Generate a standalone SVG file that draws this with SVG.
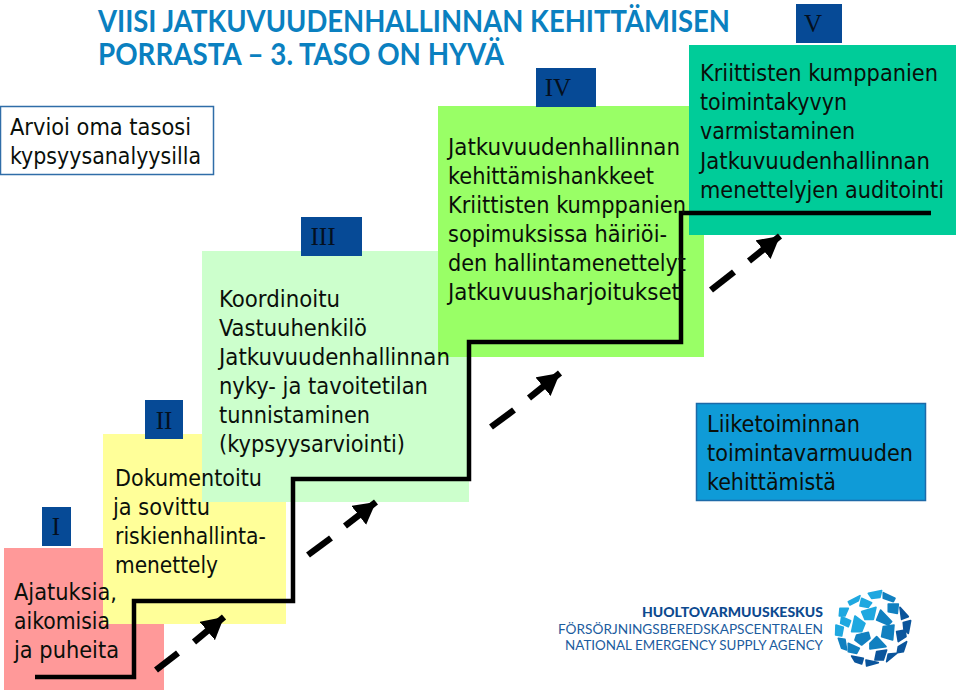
<svg xmlns="http://www.w3.org/2000/svg" width="960" height="690" viewBox="0 0 960 690">
<style>
text{font-family:"DejaVu Sans Condensed","DejaVu Sans",sans-serif;font-size:23.5px;fill:#0a0f0a}
.num{font-family:"Liberation Serif",serif;font-size:25px;fill:#04101f;text-anchor:middle}
.badge{fill:#064a96}
.title{font-family:Lato,"Open Sans",sans-serif;font-weight:700;font-size:30px;fill:#0a80c0}
.stair{fill:none;stroke:#000;stroke-width:4.5}
.dash{stroke:#000;stroke-width:6.5;fill:none}
.logo{font-family:Lato,"Noto Sans",sans-serif;font-size:13px;fill:#1c5c9e}
.logob{font-family:Lato,"Noto Sans",sans-serif;font-weight:900;font-size:13px;fill:#0d4a8f}
.l{fill:#1fa8e0;stroke:#1fa8e0}.m{fill:#1180c0;stroke:#1180c0}.d{fill:#0b559c;stroke:#0b559c}
.cells polygon{stroke-width:5;stroke-linejoin:round}
</style>
<defs>
<marker id="head" markerUnits="userSpaceOnUse" markerWidth="24" markerHeight="24" refX="20" refY="11" orient="auto" viewBox="0 0 22 22"><path d="M20 11L0 0L0 22Z" fill="#000"/></marker>
</defs>
<rect width="960" height="690" fill="#fff"/>
<g id="title">
<text class="title" x="98" y="32" textLength="632" lengthAdjust="spacingAndGlyphs">VIISI JATKUVUUDENHALLINNAN KEHITTÄMISEN</text>
<text class="title" x="98" y="65" textLength="406" lengthAdjust="spacingAndGlyphs">PORRASTA – 3. TASO ON HYVÄ</text>
</g>
<g id="assess">
<rect x="0.5" y="106.5" width="213" height="68" fill="#fff" stroke="#2f6da8" stroke-width="1.5"/>
<text x="10" y="135" textLength="181" lengthAdjust="spacingAndGlyphs">Arvioi oma tasosi</text>
<text x="10" y="164" textLength="191" lengthAdjust="spacingAndGlyphs">kypsyysanalyysilla</text>
</g>
<g id="step1-box"><rect x="4" y="548" width="160" height="142" fill="#ff9999"/></g>
<g id="step2-box"><rect x="103" y="434" width="183" height="190" fill="#ffff99"/></g>
<g id="step3-box"><rect x="202" y="251" width="267" height="251" fill="#ccffcc"/></g>
<g id="step4-box"><rect x="438" y="106" width="266" height="251" fill="#99ff66"/></g>
<g id="step5-box"><rect x="689" y="45" width="267" height="190" fill="#00cc99"/></g>
<g id="connectors">
<path class="stair" d="M35 677H134V601H293V479H469V342H681V213H931"/>
<path class="dash" d="M156 670L178 653"/><path class="dash" d="M194 642L224 617" marker-end="url(#head)"/>
<path class="dash" d="M308 555L331 538"/><path class="dash" d="M345 526L376 502" marker-end="url(#head)"/>
<path class="dash" d="M491 427L514 410"/><path class="dash" d="M529 398L560 373" marker-end="url(#head)"/>
<path class="dash" d="M711 290L734 272"/><path class="dash" d="M749 261L780 236" marker-end="url(#head)"/>
</g>
<g id="step1">
<rect class="badge" x="42" y="507" width="29" height="39"/><text class="num" x="56" y="535">I</text>
<text x="14" y="600" textLength="103" lengthAdjust="spacingAndGlyphs">Ajatuksia,</text>
<text x="14" y="629" textLength="96" lengthAdjust="spacingAndGlyphs">aikomisia</text>
<text x="14" y="658" textLength="105" lengthAdjust="spacingAndGlyphs">ja puheita</text>
</g>
<g id="step2">
<rect class="badge" x="145" y="400" width="38" height="39"/><text class="num" x="164" y="429">II</text>
<text x="115" y="486" textLength="147" lengthAdjust="spacingAndGlyphs">Dokumentoitu</text>
<text x="113" y="515" textLength="97" lengthAdjust="spacingAndGlyphs">ja sovittu</text>
<text x="115" y="544" textLength="151" lengthAdjust="spacingAndGlyphs">riskienhallinta-</text>
<text x="115" y="573" textLength="103" lengthAdjust="spacingAndGlyphs">menettely</text>
</g>
<g id="step3">
<rect class="badge" x="301" y="217" width="61" height="39"/><text class="num" x="323" y="245">III</text>
<text x="219" y="307" textLength="121" lengthAdjust="spacingAndGlyphs">Koordinoitu</text>
<text x="219" y="336" textLength="148" lengthAdjust="spacingAndGlyphs">Vastuuhenkilö</text>
<text x="219" y="365" textLength="231" lengthAdjust="spacingAndGlyphs">Jatkuvuudenhallinnan</text>
<text x="219" y="394" textLength="209" lengthAdjust="spacingAndGlyphs">nyky- ja tavoitetilan</text>
<text x="219" y="423" textLength="151" lengthAdjust="spacingAndGlyphs">tunnistaminen</text>
<text x="219" y="452" textLength="186" lengthAdjust="spacingAndGlyphs">(kypsyysarviointi)</text>
</g>
<g id="step4">
<rect class="badge" x="536" y="68" width="60" height="39"/><text class="num" x="558" y="96">IV</text>
<text x="448" y="155" textLength="232" lengthAdjust="spacingAndGlyphs">Jatkuvuudenhallinnan</text>
<text x="448" y="184" textLength="206" lengthAdjust="spacingAndGlyphs">kehittämishankkeet</text>
<text x="448" y="213" textLength="238" lengthAdjust="spacingAndGlyphs">Kriittisten kumppanien</text>
<text x="448" y="242" textLength="219" lengthAdjust="spacingAndGlyphs">sopimuksissa häiriöi-</text>
<text x="448" y="271" textLength="238" lengthAdjust="spacingAndGlyphs">den hallintamenettelyt</text>
<text x="448" y="300" textLength="232" lengthAdjust="spacingAndGlyphs">Jatkuvuusharjoitukset</text>
</g>
<g id="step5">
<rect class="badge" x="796" y="4" width="46" height="39"/><text class="num" x="813" y="32">V</text>
<text x="700" y="81" textLength="238" lengthAdjust="spacingAndGlyphs">Kriittisten kumppanien</text>
<text x="700" y="110" textLength="147" lengthAdjust="spacingAndGlyphs">toimintakyvyn</text>
<text x="700" y="139" textLength="155" lengthAdjust="spacingAndGlyphs">varmistaminen</text>
<text x="700" y="169" textLength="230" lengthAdjust="spacingAndGlyphs">Jatkuvuudenhallinnan</text>
<text x="700" y="198" textLength="244" lengthAdjust="spacingAndGlyphs">menettelyjen auditointi</text>
</g>
<g id="business">
<rect x="696.5" y="403.5" width="229" height="97" fill="#0f9bd7" stroke="#1c6aa8" stroke-width="1.5"/>
<text x="707" y="432" textLength="153" lengthAdjust="spacingAndGlyphs">Liiketoiminnan</text>
<text x="707" y="461" textLength="206" lengthAdjust="spacingAndGlyphs">toimintavarmuuden</text>
<text x="707" y="490" textLength="129" lengthAdjust="spacingAndGlyphs">kehittämistä</text>
</g>
<g id="logo">
<text class="logob" x="642" y="617" textLength="181" lengthAdjust="spacingAndGlyphs">HUOLTOVARMUUSKESKUS</text>
<text class="logo" x="558" y="634" textLength="265" lengthAdjust="spacingAndGlyphs">FÖRSÖRJNINGSBEREDSKAPSCENTRALEN</text>
<text class="logo" x="565" y="650" textLength="258" lengthAdjust="spacingAndGlyphs">NATIONAL EMERGENCY SUPPLY AGENCY</text>
<g class="cells" transform="translate(540 580) scale(.3333)">
<polygon class="l" points="985,40 1025,32 1020,52 995,55"/><polygon class="m" points="1030,38 1065,55 1060,65 1030,55"/>
<polygon class="l" points="925,65 960,47 955,62 930,75"/><polygon class="l" points="965,55 995,68 985,82 960,78"/>
<polygon class="m" points="1045,72 1075,72 1072,100 1045,95"/><polygon class="d" points="1080,82 1105,110 1085,118"/>
<polygon class="l" points="900,85 925,85 915,108 898,108"/><polygon class="l" points="965,95 1008,82 1000,118 975,118"/>
<polygon class="m" points="1022,90 1055,125 1045,135 1010,120"/><polygon class="l" points="905,110 932,122 925,140 902,130"/>
<polygon class="l" points="945,108 975,130 965,155 935,155"/><polygon class="d" points="1090,128 1112,122 1105,160 1092,148"/>
<polygon class="l" points="888,135 910,142 905,168 887,165"/><polygon class="m" points="1030,140 1062,135 1058,180 1025,170"/>
<polygon class="m" points="950,165 985,157 990,175 965,195 945,180"/><polygon class="d" points="1070,155 1095,150 1098,170 1075,185"/>
<polygon class="m" points="895,175 915,178 920,210 905,205"/><polygon class="m" points="1010,170 1038,200 990,207 990,190"/>
<polygon class="m" points="925,190 958,205 950,220 925,215"/><polygon class="d" points="1075,200 1100,185 1090,215 1072,218"/>
<polygon class="d" points="1010,215 1040,210 1030,240 1005,240"/><polygon class="d" points="935,228 970,235 965,252 945,245"/>
<polygon class="d" points="978,240 1015,248 980,258"/><polygon class="d" points="1045,222 1070,220 1040,245"/>
</g>
</g>
</svg>
